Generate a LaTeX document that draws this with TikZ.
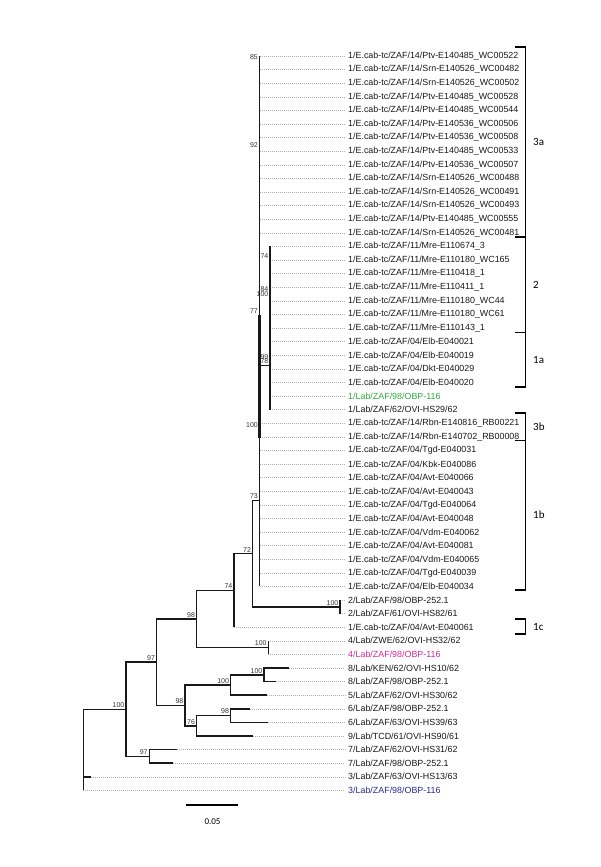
\documentclass[tikz,border=0pt]{standalone}
\usepackage{fontspec}
\setmainfont{Liberation Sans}
\newfontfamily\calfont{Carlito}
\usepackage{xcolor}
\usepackage{tikz}
\usetikzlibrary{calc}

\definecolor{labgreen}{RGB}{46,170,60}
\definecolor{labpink}{RGB}{214,40,150}
\definecolor{labblue}{RGB}{40,40,150}

% one leaf: colour, row, tip x, text
\newcommand{\tipnode}[4][black!90]{%
  \coordinate (t#2) at (#3,{56+13.6*(#2-1)});
  \node[leaflab,text=#1] (l#2) at (345,{56+13.6*(#2-1)}) {#4};
  \draw[leader] (t#2) -- (l#2.west);}

\begin{document}
\begin{tikzpicture}[
  x=1pt, y=-1pt,
  branch/.style={draw=black!90, line width=1.55pt},
  leader/.style={draw=gray!60, line width=0.4pt, dash pattern=on 0.6pt off 1.4pt},
  leaflab/.style={anchor=west, inner sep=3pt, font=\fontsize{8.9}{10}\selectfont},
  bslab/.style={anchor=south east, inner sep=1.5pt, text=black!80, font=\fontsize{7}{8}\selectfont},
  bracket/.style={draw=black, line width=1.6pt},
  clade/.style={anchor=west, inner sep=2pt, font=\calfont\fontsize{11}{12}\selectfont}
]
\useasboundingbox (0,0) rectangle (600,867);

% leaves
\tipnode{1}{259.5}{1/E.cab-tc/ZAF/14/Ptv-E140485\_WC00522}
\tipnode{2}{259.5}{1/E.cab-tc/ZAF/14/Srn-E140526\_WC00482}
\tipnode{3}{259.5}{1/E.cab-tc/ZAF/14/Srn-E140526\_WC00502}
\tipnode{4}{259.5}{1/E.cab-tc/ZAF/14/Ptv-E140485\_WC00528}
\tipnode{5}{259.5}{1/E.cab-tc/ZAF/14/Ptv-E140485\_WC00544}
\tipnode{6}{259.5}{1/E.cab-tc/ZAF/14/Ptv-E140536\_WC00506}
\tipnode{7}{259.5}{1/E.cab-tc/ZAF/14/Ptv-E140536\_WC00508}
\tipnode{8}{259.5}{1/E.cab-tc/ZAF/14/Ptv-E140485\_WC00533}
\tipnode{9}{259.5}{1/E.cab-tc/ZAF/14/Ptv-E140536\_WC00507}
\tipnode{10}{259.5}{1/E.cab-tc/ZAF/14/Srn-E140526\_WC00488}
\tipnode{11}{259.5}{1/E.cab-tc/ZAF/14/Srn-E140526\_WC00491}
\tipnode{12}{259.5}{1/E.cab-tc/ZAF/14/Srn-E140526\_WC00493}
\tipnode{13}{259.5}{1/E.cab-tc/ZAF/14/Ptv-E140485\_WC00555}
\tipnode{14}{259.5}{1/E.cab-tc/ZAF/14/Srn-E140526\_WC00481}
\tipnode{15}{270}{1/E.cab-tc/ZAF/11/Mre-E110674\_3}
\tipnode{16}{270}{1/E.cab-tc/ZAF/11/Mre-E110180\_WC165}
\tipnode{17}{270}{1/E.cab-tc/ZAF/11/Mre-E110418\_1}
\tipnode{18}{270}{1/E.cab-tc/ZAF/11/Mre-E110411\_1}
\tipnode{19}{270}{1/E.cab-tc/ZAF/11/Mre-E110180\_WC44}
\tipnode{20}{270}{1/E.cab-tc/ZAF/11/Mre-E110180\_WC61}
\tipnode{21}{270}{1/E.cab-tc/ZAF/11/Mre-E110143\_1}
\tipnode{22}{270}{1/E.cab-tc/ZAF/04/Elb-E040021}
\tipnode{23}{270}{1/E.cab-tc/ZAF/04/Elb-E040019}
\tipnode{24}{270}{1/E.cab-tc/ZAF/04/Dkt-E040029}
\tipnode{25}{270}{1/E.cab-tc/ZAF/04/Elb-E040020}
\tipnode[labgreen]{26}{270}{1/Lab/ZAF/98/OBP-116}
\tipnode{27}{270}{1/Lab/ZAF/62/OVI-HS29/62}
\tipnode{28}{259.5}{1/E.cab-tc/ZAF/14/Rbn-E140816\_RB00221}
\tipnode{29}{259.5}{1/E.cab-tc/ZAF/14/Rbn-E140702\_RB00008}
\tipnode{30}{259.5}{1/E.cab-tc/ZAF/04/Tgd-E040031}
\tipnode{31}{259.5}{1/E.cab-tc/ZAF/04/Kbk-E040086}
\tipnode{32}{259.5}{1/E.cab-tc/ZAF/04/Avt-E040066}
\tipnode{33}{259.5}{1/E.cab-tc/ZAF/04/Avt-E040043}
\tipnode{34}{259.5}{1/E.cab-tc/ZAF/04/Tgd-E040064}
\tipnode{35}{259.5}{1/E.cab-tc/ZAF/04/Avt-E040048}
\tipnode{36}{259.5}{1/E.cab-tc/ZAF/04/Vdm-E040062}
\tipnode{37}{259.5}{1/E.cab-tc/ZAF/04/Avt-E040081}
\tipnode{38}{259.5}{1/E.cab-tc/ZAF/04/Vdm-E040065}
\tipnode{39}{259.5}{1/E.cab-tc/ZAF/04/Tgd-E040039}
\tipnode{40}{259.5}{1/E.cab-tc/ZAF/04/Elb-E040034}
\tipnode{41}{340}{2/Lab/ZAF/98/OBP-252.1}
\tipnode{42}{340}{2/Lab/ZAF/61/OVI-HS82/61}
\tipnode{43}{234}{1/E.cab-tc/ZAF/04/Avt-E040061}
\tipnode{44}{268.3}{4/Lab/ZWE/62/OVI-HS32/62}
\tipnode[labpink]{45}{268.3}{4/Lab/ZAF/98/OBP-116}
\tipnode{46}{289.3}{8/Lab/KEN/62/OVI-HS10/62}
\tipnode{47}{276}{8/Lab/ZAF/98/OBP-252.1}
\tipnode{48}{266.7}{5/Lab/ZAF/62/OVI-HS30/62}
\tipnode{49}{250}{6/Lab/ZAF/98/OBP-252.1}
\tipnode{50}{268}{6/Lab/ZAF/63/OVI-HS39/63}
\tipnode{51}{253.3}{9/Lab/TCD/61/OVI-HS90/61}
\tipnode{52}{176.7}{7/Lab/ZAF/62/OVI-HS31/62}
\tipnode{53}{173.3}{7/Lab/ZAF/98/OBP-252.1}
\tipnode{54}{90.7}{3/Lab/ZAF/63/OVI-HS13/63}
\tipnode[labblue]{55}{83.3}{3/Lab/ZAF/98/OBP-116}

% internal nodes
\coordinate (R) at (83.3,750);
\coordinate (J) at (126,709.3);
\coordinate (K) at (149.3,756.4);
\coordinate (F) at (156.7,662.2);
\coordinate (G) at (196.7,619);
\coordinate (H) at (234,590.5);
\coordinate (I) at (268.3,647.6);
\coordinate (L) at (252.7,553.7);
\coordinate (N) at (340,606.8);
\coordinate (M) at (259.5,500.7);
\coordinate (Q) at (270,365.3);
\coordinate (D) at (185,705.4);
\coordinate (A) at (230.7,685);
\coordinate (B) at (264,674.8);
\coordinate (C) at (196.7,725.8);
\coordinate (E) at (230.7,715.6);
\coordinate (n85) at (259.5,61);
\coordinate (n92) at (259.5,149);
\coordinate (n77) at (259.5,315);
\coordinate (n3b) at (259.5,429.5);
\coordinate (nb) at (259.5,437.5);
\coordinate (q74) at (270,260);
\coordinate (q84) at (270,293);
\coordinate (q100) at (270,298);
\coordinate (q99) at (270,361);

% branches
\foreach \p/\c in {R/J, R/t54, R/t55, J/F, J/K, K/t52, K/t53, F/G, F/D,
    G/H, G/I, I/t44, I/t45, H/L, H/t43, L/M, L/N, N/t41, N/t42,
    M/t1, M/t40, M/Q, Q/t15, Q/t27, D/A, D/C, A/B, A/t48,
    B/t46, B/t47, C/E, C/t51, E/t49, E/t50}
  \draw[branch] (\p) |- (\c);
\draw[branch, line width=2.8pt] (n77) -- (nb);

% bootstrap values
\node[bslab] (b85) at (n85) {85};
\node[bslab] (b92) at (n92) {92};
\node[bslab] (b74a) at (q74) {74};
\node[bslab] (b84) at (q84) {84};
\node[bslab] (b100a) at (q100) {100};
\node[bslab] (b77) at (n77) {77};
\node[bslab] (b99) at (q99) {99};
\node[bslab] (b78) at (Q) {78};
\node[bslab] (b100b) at (n3b) {100};
\node[bslab] (b73) at (M) {73};
\node[bslab] (b72) at (L) {72};
\node[bslab] (b74b) at (H) {74};
\node[bslab] (b100c) at (N) {100};
\node[bslab] (b98a) at (G) {98};
\node[bslab] (b100d) at (I) {100};
\node[bslab] (b97a) at (F) {97};
\node[bslab] (b100e) at (B) {100};
\node[bslab] (b100f) at (A) {100};
\node[bslab] (b98b) at (D) {98};
\node[bslab] (b98c) at (E) {98};
\node[bslab] (b76) at (C) {76};
\node[bslab] (b100g) at (J) {100};
\node[bslab] (b97b) at (K) {97};

% genotype brackets
\draw[bracket] (515,47) -- (525.5,47) -- (525.5,237) -- (515,237);
\draw[bracket] (515,237) -- (525.5,237) -- (525.5,332.5) -- (515,332.5);
\draw[bracket] (515,332.5) -- (525.5,332.5) -- (525.5,387) -- (515,387);
\draw[bracket] (515,413) -- (525.5,413) -- (525.5,440.5) -- (515,440.5);
\draw[bracket] (515,440.5) -- (525.5,440.5) -- (525.5,590) -- (515,590);
\draw[bracket] (515,619) -- (525.5,619) -- (525.5,634) -- (515,634);
\node[clade] (g3a) at (531,142) {3a};
\node[clade] (g2) at (531,284.7) {2};
\node[clade] (g1a) at (531,359.7) {1a};
\node[clade] (g3b) at (531,426.7) {3b};
\node[clade] (g1b) at (531,515.2) {1b};
\node[clade] (g1c) at (531,626.5) {1c};

% scale bar
\coordinate (sb1) at (186,805);
\coordinate (sb2) at (238,805);
\draw[line width=2pt] (sb1) -- (sb2);
\node[font=\calfont\fontsize{9}{10}\selectfont] (sblab) at (212.5,822) {0.05};
\end{tikzpicture}
\end{document}
